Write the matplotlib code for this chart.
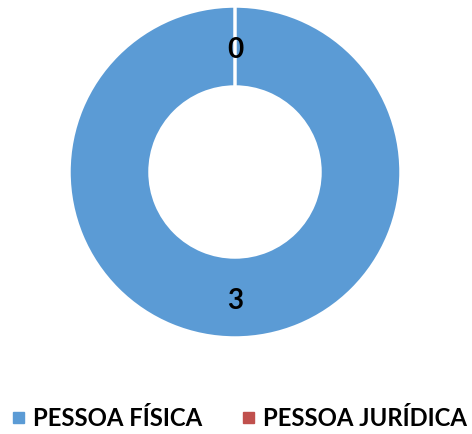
import matplotlib
matplotlib.use("Agg")
import matplotlib.pyplot as plt
import matplotlib.patches as mpatches
import numpy as np

categories = ["PESSOA FÍSICA", "PESSOA JURÍDICA"]
values = [3, 0]
colors = ["#5B9BD5", "#C0504D"]

W, H = 472, 435
fig = plt.figure(figsize=(W / 100, H / 100), dpi=100)
ax = fig.add_axes([0, 0, 1, 1])
cx, cy = 235, 173

R, ring = 166, 81
wedges, _ = ax.pie(values, colors=colors, radius=R, startangle=90, counterclock=False,
                   wedgeprops=dict(width=ring, edgecolor="white", linewidth=2.5))
ax.set_xlim(-cx, W - cx)
ax.set_ylim(-(H - cy), cy)
ax.set_aspect("equal")
ax.axis("off")

total = sum(values)
ang = 90
r_lab = R - ring / 2
for v in values:
    span = 360 * v / total
    mid = ang - span / 2
    ax.text(r_lab * np.cos(np.radians(mid)), r_lab * np.sin(np.radians(mid)), str(v),
            ha="center", va="center_baseline", fontsize=20, fontweight="bold", family="Lato")
    ang -= span

# manual legend (pixel positions converted to figure fraction)
leg_x = [13, 243]
leg_y = 418
sq = 11
for x0, lab, c in zip(leg_x, categories, colors):
    fig.patches.append(mpatches.Rectangle((x0 / W, 1 - (leg_y + sq / 2) / H), sq / W, sq / H,
                                          transform=fig.transFigure, color=c, figure=fig))
    fig.text((x0 + sq + 9) / W, 1 - (leg_y + 1) / H, lab, ha="left", va="center",
             family="Lato", fontweight="bold", fontsize=17.2)

fig.savefig("out.png", dpi=100)
